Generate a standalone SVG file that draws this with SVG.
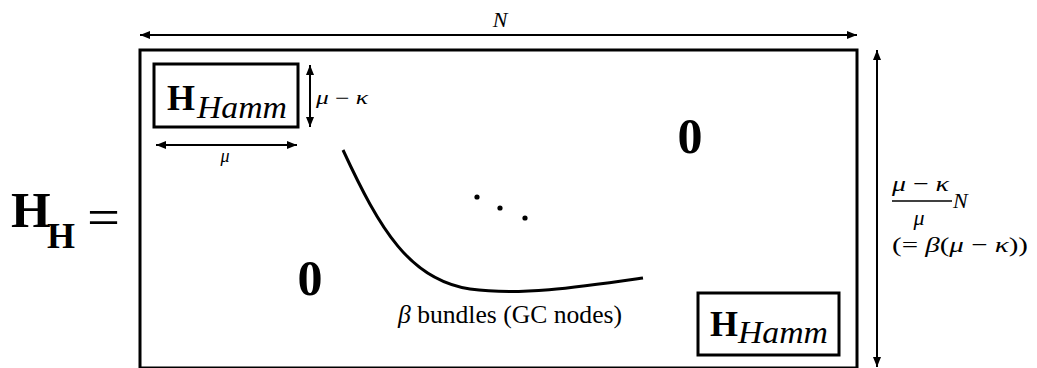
<svg xmlns="http://www.w3.org/2000/svg" width="1037" height="368" viewBox="0 0 1037 368">
<defs>
<marker id="ah" viewBox="0 0 10 8" refX="10" refY="4" markerWidth="10" markerHeight="8" markerUnits="userSpaceOnUse" orient="auto-start-reverse">
<path d="M0,0 L10,4 L0,8 z" fill="#000"/>
</marker>
<style>
.box{fill:none;stroke:#000;stroke-width:3}
.dim{stroke:#000;stroke-width:2;fill:none;marker-start:url(#ah);marker-end:url(#ah)}
.t{font-family:"Liberation Serif","DejaVu Serif",serif;fill:#000}
.b{font-weight:bold}
.i{font-style:italic}
</style>
</defs>
<rect width="1037" height="368" fill="#fff"/>
<g id="lhs">
<text class="t b" x="11" y="227" font-size="51">H</text>
<text class="t b" x="47" y="248" font-size="36">H</text>
<text class="t" x="87" y="235" font-size="52" textLength="33" lengthAdjust="spacingAndGlyphs">=</text>
</g>
<g id="matrix">
<rect class="box" x="140" y="50" width="717" height="318"/>
</g>
<g id="hamm-top">
<rect class="box" x="154" y="64" width="144" height="63"/>
<text class="t b" x="167" y="110" font-size="36">H</text>
<text class="t i" x="197" y="118" font-size="31" textLength="90" lengthAdjust="spacingAndGlyphs">Hamm</text>
</g>
<g id="hamm-bottom">
<rect class="box" x="698" y="293" width="141" height="62"/>
<text class="t b" x="710" y="336" font-size="36">H</text>
<text class="t i" x="738" y="343" font-size="31" textLength="90" lengthAdjust="spacingAndGlyphs">Hamm</text>
</g>
<g id="zero-top">
<text class="t b" x="690" y="153" font-size="50" text-anchor="middle">0</text>
</g>
<g id="zero-bottom">
<text class="t b" x="310" y="295" font-size="50" text-anchor="middle">0</text>
</g>
<g id="dots">
<circle cx="477" cy="197" r="2.6"/>
<circle cx="500" cy="208" r="2.6"/>
<circle cx="525" cy="218" r="2.6"/>
</g>
<g id="connectors">
<line class="dim" x1="140" y1="35" x2="857" y2="35"/>
<line class="dim" x1="877" y1="50" x2="877" y2="367"/>
<line class="dim" x1="310" y1="65" x2="310" y2="127"/>
<line class="dim" x1="156" y1="145" x2="297" y2="145"/>
<path d="M343,150 C380,230 410,280 470,289 C520,296 580,287 643,278" fill="none" stroke="#000" stroke-width="3"/>
<line x1="892" y1="201" x2="952" y2="201" stroke="#000" stroke-width="1.5"/>
</g>
<g id="labels">
<text class="t i" x="500" y="27" font-size="22" text-anchor="middle">N</text>
<text class="t" x="316" y="104" font-size="18" textLength="52" lengthAdjust="spacingAndGlyphs"><tspan class="i">μ</tspan> − <tspan class="i">κ</tspan></text>
<text class="t i" x="225" y="162" font-size="18" text-anchor="middle">μ</text>
<text class="t" x="398" y="323" font-size="25" textLength="224" lengthAdjust="spacingAndGlyphs"><tspan class="i">β</tspan> bundles (GC nodes)</text>
<text class="t" x="892" y="191" font-size="22" textLength="57" lengthAdjust="spacingAndGlyphs"><tspan class="i">μ</tspan> − <tspan class="i">κ</tspan></text>
<text class="t i" x="953" y="208" font-size="22">N</text>
<text class="t i" x="919" y="225" font-size="22" text-anchor="middle">μ</text>
<text class="t" x="892" y="252" font-size="22" textLength="136" lengthAdjust="spacingAndGlyphs">(= <tspan class="i">β</tspan>(<tspan class="i">μ</tspan> − <tspan class="i">κ</tspan>))</text>
</g>
</svg>
